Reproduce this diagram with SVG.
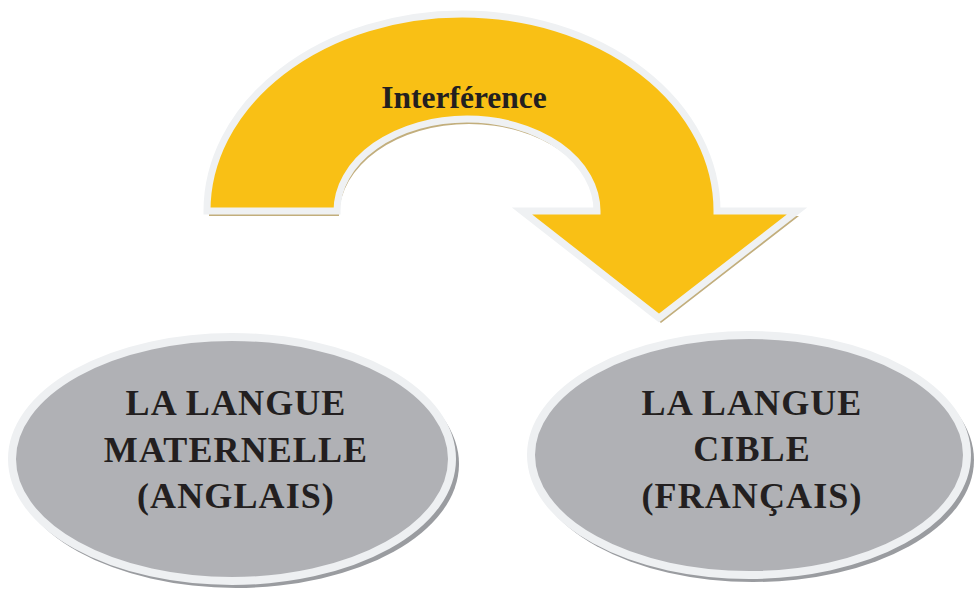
<svg xmlns="http://www.w3.org/2000/svg" width="974" height="598" viewBox="0 0 974 598">
<style>
.lbl{font-family:"Liberation Serif","Times New Roman",serif;font-weight:bold;fill:#231f20;text-anchor:middle}
.big{font-size:36px;letter-spacing:1.1px}
.ell{fill:#b0b1b5;stroke:#eef0f2;stroke-width:8}
.eshadow{fill:#9a9ca0}
</style>
<rect width="974" height="598" fill="#ffffff"/>
<g id="connectors">
<g id="arrow">
<path d="M207,211 A255,197 0 0 1 717,211 L797,211 L659,318 L522,211 L597,211 A130,92 0 0 0 337,211 Z" fill="#c2ae7c" transform="translate(2,5)"/>
<path d="M207,211 A255,197 0 0 1 717,211 L797,211 L659,318 L522,211 L597,211 A130,92 0 0 0 337,211 Z" fill="#f9c015" stroke="#eff1f3" stroke-width="7" stroke-linejoin="miter"/>
<text class="lbl" x="464" y="108" font-size="31.5">Interférence</text>
</g>
</g>
<g id="node-maternelle">
<ellipse class="eshadow" cx="236" cy="464" rx="223" ry="124"/>
<ellipse class="ell" cx="232" cy="459" rx="220" ry="122"/>
<text class="lbl big" x="236" y="415">LA LANGUE</text>
<text class="lbl big" x="236" y="462">MATERNELLE</text>
<text class="lbl big" x="236" y="508">(ANGLAIS)</text>
</g>
<g id="node-cible">
<ellipse class="eshadow" cx="753" cy="460" rx="221" ry="122"/>
<ellipse class="ell" cx="749" cy="455" rx="218" ry="120"/>
<text class="lbl big" x="752" y="415">LA LANGUE</text>
<text class="lbl big" x="752" y="461">CIBLE</text>
<text class="lbl big" x="752" y="508">(FRANÇAIS)</text>
</g>
</svg>
